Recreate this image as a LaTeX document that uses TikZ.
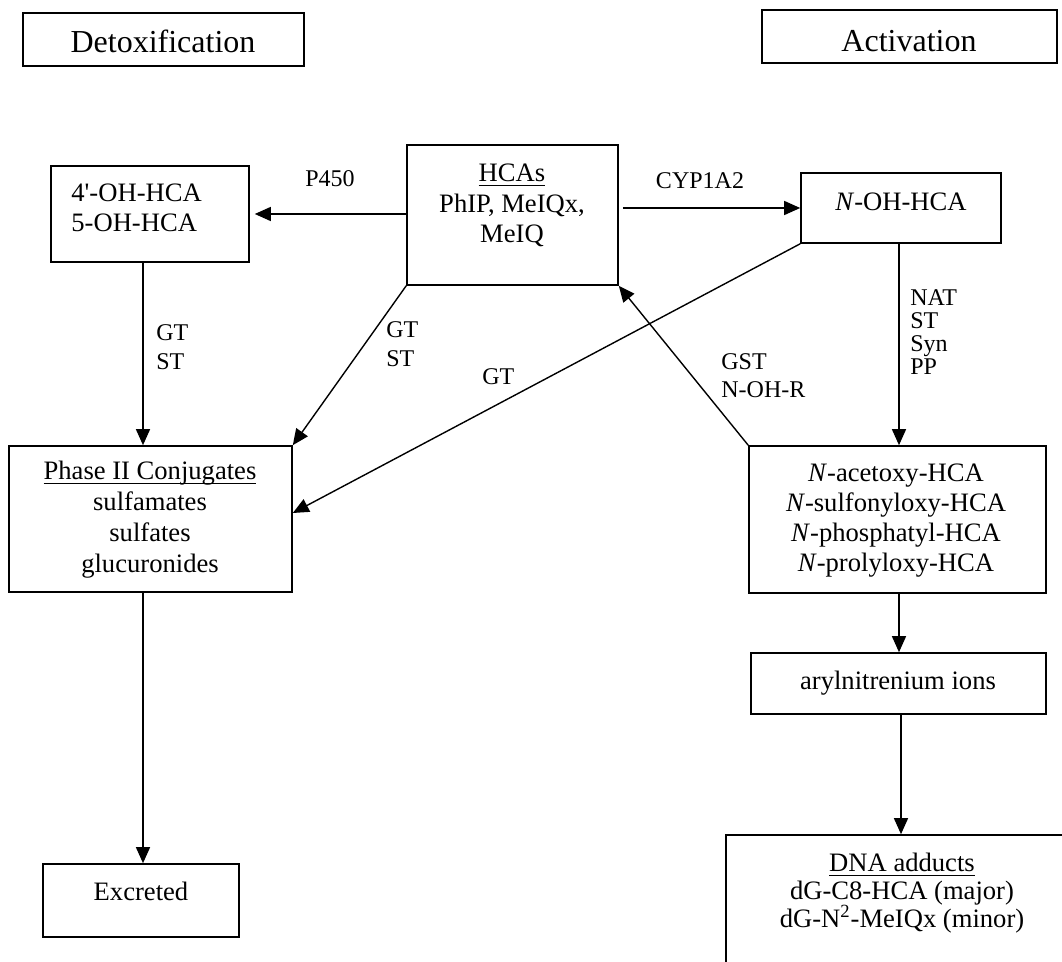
\documentclass[tikz,border=0pt]{standalone}
\usepackage{fontspec}
\setmainfont{Liberation Serif}
\usetikzlibrary{arrows.meta}
\newcommand\myul[1]{\setbox0\hbox{#1}\rlap{\rule[-2pt]{\wd0}{0.7pt}}\box0}
\begin{document}
\begin{tikzpicture}[x=0.5pt,y=-0.5pt,
  box/.style={draw, line width=0.8pt, inner sep=0pt, rectangle},
  conn/.style={line width=0.7pt, -{Triangle[length=8pt,width=7pt]}},
  ttl/.style={inner sep=0pt, anchor=base, font=\fontsize{16}{19}\selectfont},
  txt/.style={inner sep=0pt, anchor=base, font=\fontsize{13.3}{16}\selectfont},
  txtl/.style={txt, anchor=base west},
  lbl/.style={inner sep=0pt, anchor=base west, font=\fontsize{12}{14}\selectfont},
  lblc/.style={lbl, anchor=base}]
\useasboundingbox (0,0) rectangle (1062,962);
\clip (0,0) rectangle (1062,962);

% boxes
\node[box, minimum width=140.5pt, minimum height=26.5pt] (detox) at (163.5,39.5) {};
\node[box, minimum width=147.5pt, minimum height=26.5pt] (activ) at (909.5,36.5) {};
\node[box, minimum width=99pt, minimum height=48pt] (oh4) at (150,214) {};
\node[box, minimum width=105.5pt, minimum height=70pt] (hcas) at (512.5,215) {};
\node[box, minimum width=100pt, minimum height=35pt] (noh) at (901,208) {};
\node[box, minimum width=141.5pt, minimum height=73pt] (ph2) at (150.5,519) {};
\node[box, minimum width=148.5pt, minimum height=73.5pt] (nac) at (897.5,519.5) {};
\node[box, minimum width=147.5pt, minimum height=30.5pt] (aryl) at (898.5,683.5) {};
\node[box, minimum width=98pt, minimum height=36.5pt] (exc) at (141,900.5) {};
\node[box, minimum width=175pt, minimum height=72.5pt] (dna) at (901,907.5) {};
\coordinate (vx) at (899,0);

% texts in boxes
\node[ttl] (t-detox) at (163,53) {Detoxification};
\node[ttl] (t-activ) at (909,52) {Activation};
\node[txtl] (t-oh4a) at (71,202) {4\textquotesingle-OH-HCA};
\node[txtl] (t-oh4b) at (71,232) {5-OH-HCA};
\node[txt] (t-hcas1) at (512,182) {\myul{HCAs}};
\node[txt] (t-hcas2) at (512,213) {PhIP, MeIQx,};
\node[txt] (t-hcas3) at (512,243) {MeIQ};
\node[txt] (t-noh) at (901,211) {\textit{N}-OH-HCA};
\node[txt] (t-ph1) at (150,480) {\myul{Phase II Conjugates}};
\node[txt] (t-ph2) at (150,511) {sulfamates};
\node[txt] (t-ph3) at (150,542) {sulfates};
\node[txt] (t-ph4) at (150,573) {glucuronides};
\node[txt] (t-nac1) at (896,482) {\textit{N}-acetoxy-HCA};
\node[txt] (t-nac2) at (896,512) {\textit{N}-sulfonyloxy-HCA};
\node[txt] (t-nac3) at (896,542) {\textit{N}-phosphatyl-HCA};
\node[txt] (t-nac4) at (896,572) {\textit{N}-prolyloxy-HCA};
\node[txt] (t-aryl) at (898,690) {arylnitrenium ions};
\node[txt] (t-exc) at (141,901) {Excreted};
\node[txt] (t-dna1) at (902,872) {\myul{DNA adducts}};
\node[txt] (t-dna2) at (902,900) {dG-C8-HCA (major)};
\node[txt] (t-dna3) at (902,928) {dG-N\textsuperscript{2}-MeIQx (minor)};

% connectors
\draw[conn, shorten >=2.5pt] (hcas.west |- oh4.east) -- (oh4.east);
\draw[conn] ([xshift=2pt]hcas.east |- noh.west) -- (noh.west);
\draw[conn] ([xshift=-3.5pt]oh4.south) -- ([xshift=-3.5pt]oh4.south |- ph2.north);
\draw[conn] (hcas.south west) -- (ph2.north east);
\draw[conn] (noh.south west) -- ([yshift=3pt]ph2.east);
\draw[conn] (nac.north west) -- (hcas.south east);
\draw[conn] (vx |- noh.south) -- (vx |- nac.north);
\draw[conn] (vx |- nac.south) -- (vx |- aryl.north);
\draw[conn] (dna.north |- aryl.south) -- (dna.north);
\draw[conn] ([xshift=1pt]exc.north |- ph2.south) -- ([xshift=1pt]exc.north);

% connector labels
\node[lblc] (l-p450) at (330,187) {P450};
\node[lblc] (l-cyp) at (700,189) {CYP1A2};
\node[lbl] (l-gt1) at (156,341) {GT};
\node[lbl] (l-st1) at (156,370) {ST};
\node[lbl] (l-gt2) at (386,338) {GT};
\node[lbl] (l-st2) at (386,367) {ST};
\node[lbl] (l-gt3) at (482,385) {GT};
\node[lbl] (l-gst) at (721,370) {GST};
\node[lbl] (l-nohr) at (721,398) {N-OH-R};
\node[lbl] (l-nat) at (910,306) {NAT};
\node[lbl] (l-st3) at (910,329) {ST};
\node[lbl] (l-syn) at (910,352) {Syn};
\node[lbl] (l-pp) at (910,375) {PP};
\end{tikzpicture}
\end{document}
